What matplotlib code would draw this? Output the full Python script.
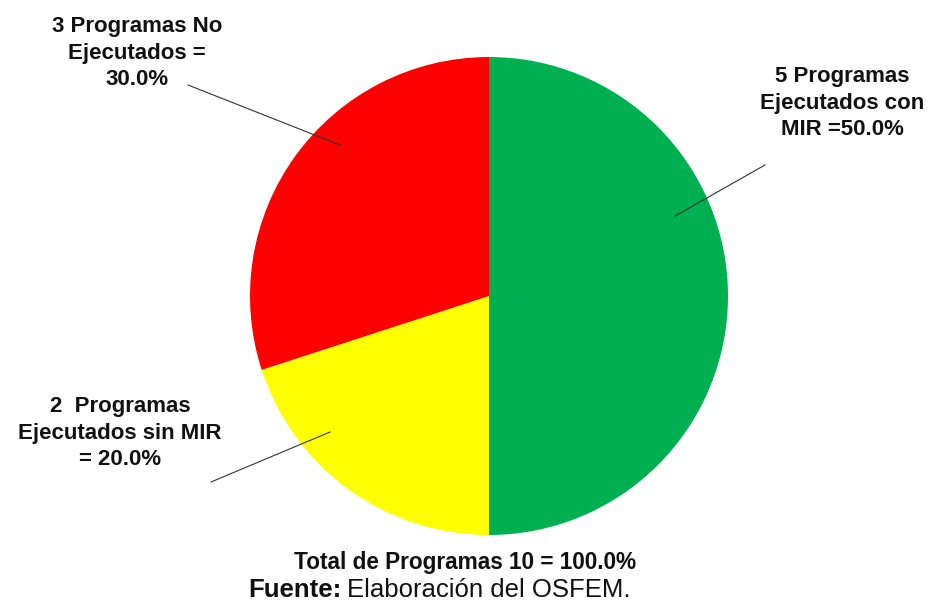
import matplotlib
matplotlib.use("Agg")
import matplotlib.pyplot as plt

categories = ["5 Programas\nEjecutados con\nMIR =50.0%",
              "2  Programas\nEjecutados sin MIR\n= 20.0%",
              "3 Programas No\nEjecutados =\n30.0%"]
values = [50.0, 20.0, 30.0]
colors = ["#00B050", "#FFFF00", "#FF0000"]
total_label = "Total de Programas 10 = 100.0%"

arial = "Liberation Sans"

W, H = 930, 603
fig = plt.figure(figsize=(9.3, 6.03), dpi=100)
ax = fig.add_axes([0, 0, 1, 1])
ax.set_xlim(0, W)
ax.set_ylim(0, H)
ax.set_aspect("equal")
ax.axis("off")

cx, cy, r = 489, H - 296, 239
ax.pie(values, colors=colors, startangle=90, counterclock=False,
       center=(cx, cy), radius=r, wedgeprops=dict(linewidth=0))
ax.set_xlim(0, W)
ax.set_ylim(0, H)

label_pos = [(842, H - 103), (120, H - 433), (137, H - 53)]
lines = [((765, H - 165), (675, H - 216)),
         ((211, H - 482), (330, H - 432)),
         ((188, H - 85), (340, H - 145))]
for txt, (x, y), (p0, p1) in zip(categories, label_pos, lines):
    ax.text(x, y, txt, ha="center", va="center", fontsize=16, fontweight="bold",
            family=arial, linespacing=1.33, color="#111111")
    ax.plot([p0[0], p1[0]], [p0[1], p1[1]], color="#333333", lw=0.8)

ax.text(465, H - 563, total_label, ha="center", va="center", fontsize=16.3,
        fontweight="bold", family=arial, color="#111111")
t1 = ax.text(248, H - 590, "Fuente:", ha="left", va="center", fontsize=18.5,
             fontweight="bold", family=arial, color="#111111")
fig.canvas.draw()
bb = t1.get_window_extent()
ax.text(bb.x1 + 6, H - 590, "Elaboración del OSFEM.", ha="left", va="center",
        fontsize=18.5, family=arial, color="#111111")

fig.savefig("out.png", dpi=100)
